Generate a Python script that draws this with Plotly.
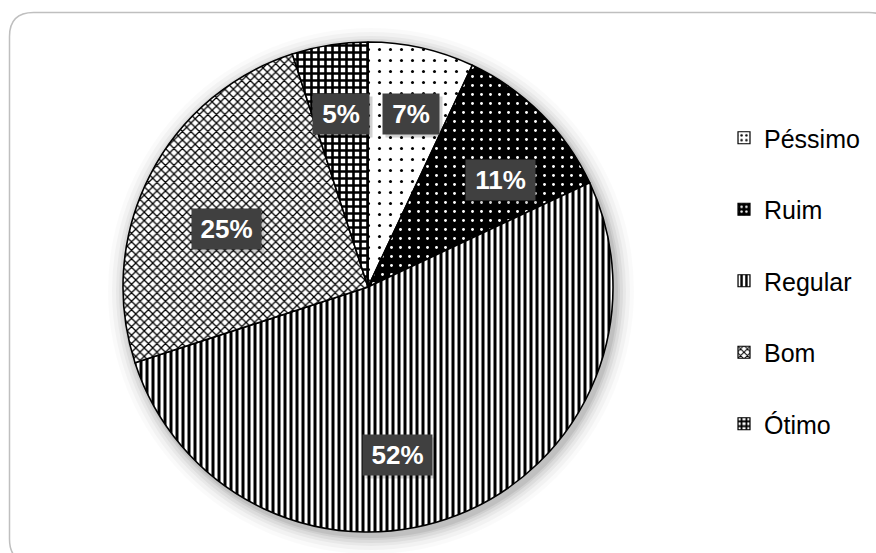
import math
import plotly.graph_objects as go

# Avaliação: distribuição das respostas
categorias = ["Péssimo", "Ruim", "Regular", "Bom", "Ótimo"]
percentuais = [7, 11, 52, 25, 5]

W, H = 876, 553
CX, CY, R = 368, 287, 245  # pie centre / radius in pixels

# fill style per slice (pattern shape, background, foreground, tile size, solidity)
estilos = [
    dict(shape=".", bg="white", fg="black", size=11, solid=0.06),
    dict(shape=".", bg="black", fg="white", size=9, solid=0.08),
    dict(shape="|", bg="white", fg="black", size=6, solid=0.5),
    dict(shape="x", bg="white", fg="black", size=6, solid=0.38),
    dict(shape="+", bg="white", fg="black", size=7, solid=0.6),
]
# label placement: (angular nudge in degrees, fraction of radius)
rotulo_pos = [(0, 0.81), (1, 0.75), (12.6, 0.78), (-9, 0.76), (1, 0.80)]


def px_x(x):
    return x / W


def px_y(y):
    return 1 - y / H


fig = go.Figure()

fig.add_trace(go.Pie(
    labels=categorias,
    values=percentuais,
    sort=False,
    direction="clockwise",
    rotation=0,
    textinfo="none",
    hoverinfo="label+percent",
    showlegend=False,
    domain=dict(x=[px_x(CX - R), px_x(CX + R)], y=[px_y(CY + R), px_y(CY - R)]),
    marker=dict(
        colors=[e["bg"] for e in estilos],
        line=dict(color="black", width=1.6),
        pattern=dict(
            shape=[e["shape"] for e in estilos],
            bgcolor=[e["bg"] for e in estilos],
            fgcolor=[e["fg"] for e in estilos],
            size=[e["size"] for e in estilos],
            solidity=[e["solid"] for e in estilos],
            fillmode="replace",
        ),
    ),
))

# legend entries (one per category, patterned swatches)
for nome, e in zip(categorias, estilos):
    fig.add_trace(go.Bar(
        x=[0], y=[0], name=nome, legendgroup=nome, showlegend=True,
        marker=dict(
            color=e["bg"],
            line=dict(color="black", width=1.2),
            pattern=dict(shape=e["shape"], bgcolor=e["bg"], fgcolor=e["fg"],
                         size=min(e["size"], 6), solidity=max(e["solid"], 0.2),
                         fillmode="replace"),
        ),
        hoverinfo="skip",
    ))

# percentage labels in dark boxes
total = sum(percentuais)
acum = 0
anots = []
for v, (nudge, rf) in zip(percentuais, rotulo_pos):
    meio = 360 * (acum + v / 2) / total + nudge
    acum += v
    th = math.radians(meio)
    x = CX + rf * R * math.sin(th)
    y = CY - rf * R * math.cos(th)
    txt = f"{v}%"
    largura = 50 if len(txt) == 2 else 63
    # soft shadow behind the box
    anots.append(dict(
        x=px_x(x + 3), y=px_y(y + 3), xref="paper", yref="paper",
        text=" ", showarrow=False, width=largura, height=34, borderpad=3,
        bgcolor="rgba(0,0,0,0.18)",
    ))
    anots.append(dict(
        x=px_x(x), y=px_y(y), xref="paper", yref="paper",
        text=f"<b>{txt}</b>", showarrow=False, width=largura, height=34, borderpad=3,
        bgcolor="#404040",
        font=dict(color="white", size=26, family="Arial, Liberation Sans"),
    ))

# soft glow around the pie
shapes = []
for extra, alpha in [(18, 0.02), (14, 0.03), (10, 0.04), (7, 0.05), (4, 0.06), (2, 0.07)]:
    rr = R + extra
    ox, oy = 3, 4
    shapes.append(dict(
        type="circle", xref="paper", yref="paper", layer="below",
        x0=px_x(CX + ox - rr), x1=px_x(CX + ox + rr),
        y0=px_y(CY + oy + rr), y1=px_y(CY + oy - rr),
        fillcolor=f"rgba(0,0,0,{alpha})", line=dict(width=0),
    ))

# rounded outer frame
x0, y0, x1, y1, rc = 9.5, 12.5, 893, 563, 24
caminho = (
    f"M {px_x(x0)},{px_y(y0 + rc)} "
    f"Q {px_x(x0)},{px_y(y0)} {px_x(x0 + rc)},{px_y(y0)} "
    f"L {px_x(x1 - rc)},{px_y(y0)} "
    f"Q {px_x(x1)},{px_y(y0)} {px_x(x1)},{px_y(y0 + rc)} "
    f"L {px_x(x1)},{px_y(y1 - rc)} "
    f"Q {px_x(x1)},{px_y(y1)} {px_x(x1 - rc)},{px_y(y1)} "
    f"L {px_x(x0 + rc)},{px_y(y1)} "
    f"Q {px_x(x0)},{px_y(y1)} {px_x(x0)},{px_y(y1 - rc)} Z"
)
shapes.append(dict(type="path", xref="paper", yref="paper", path=caminho,
                   line=dict(color="#bfbfbf", width=1.5), layer="below"))

fig.update_layout(
    width=W, height=H,
    margin=dict(l=0, r=0, t=0, b=0),
    paper_bgcolor="white",
    plot_bgcolor="rgba(0,0,0,0)",
    xaxis=dict(visible=False, range=[10, 11]),
    yaxis=dict(visible=False, range=[10, 11]),
    shapes=shapes,
    annotations=anots,
    legend=dict(
        x=px_x(724), xanchor="left",
        y=px_y(115), yanchor="top",
        traceorder="grouped",
        tracegroupgap=36,
        font=dict(size=25, color="black", family="Arial, Liberation Sans"),
        bgcolor="rgba(0,0,0,0)",
    ),
)

fig.write_html("out.html")
